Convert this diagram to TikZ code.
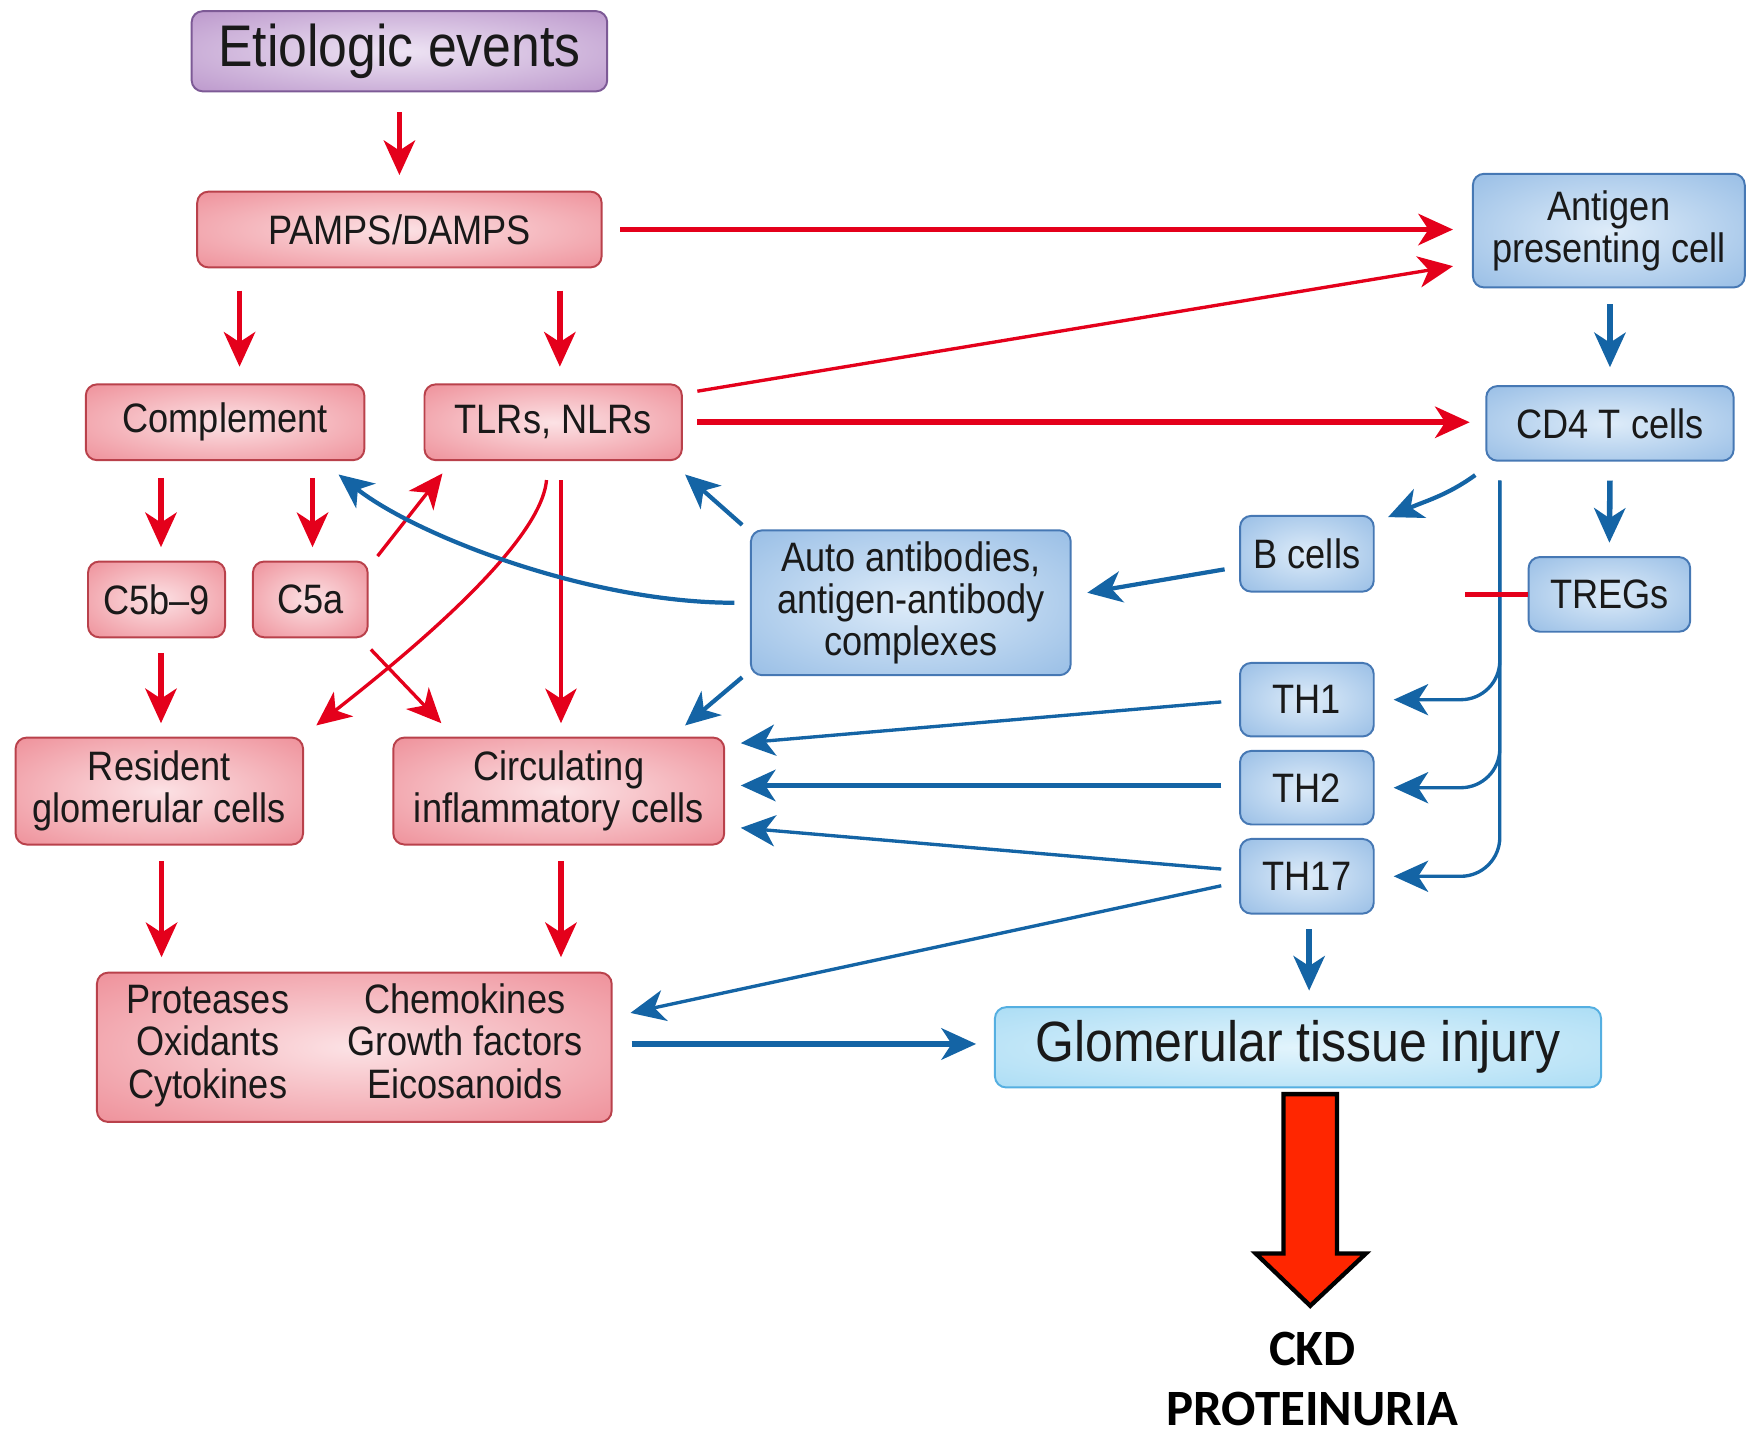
\documentclass[tikz,border=0pt]{standalone}
\usepackage{fontspec}
\setmainfont{Liberation Sans}[FakeStretch=0.88]
\newfontfamily\ckdfont{Carlito}
\usetikzlibrary{arrows.meta,calc}
\definecolor{redin}{RGB}{252,226,229}
\definecolor{redout}{RGB}{233,112,124}
\definecolor{redline}{RGB}{185,65,75}
\definecolor{bluein}{RGB}{222,236,249}
\definecolor{blueout}{RGB}{125,172,222}
\definecolor{blueline}{RGB}{70,120,180}
\definecolor{glomin}{RGB}{226,244,252}
\definecolor{glomout}{RGB}{150,212,242}
\definecolor{glomline}{RGB}{85,175,225}
\definecolor{purpin}{RGB}{238,228,244}
\definecolor{purpout}{RGB}{168,122,188}
\definecolor{purpline}{RGB}{125,90,150}
\definecolor{arrred}{RGB}{228,0,27}
\definecolor{arrblue}{RGB}{20,100,165}
\definecolor{bigred}{RGB}{255,38,0}
\definecolor{txt}{RGB}{25,25,25}
\pgfdeclareradialshading{redshade}{\pgfpoint{0bp}{0bp}}{color(0bp)=(redin); color(50bp)=(redout); color(75bp)=(redout)}
\pgfdeclareradialshading{blueshade}{\pgfpoint{0bp}{0bp}}{color(0bp)=(bluein); color(50bp)=(blueout); color(75bp)=(blueout)}
\pgfdeclareradialshading{glomshade}{\pgfpoint{0bp}{0bp}}{color(0bp)=(glomin); color(50bp)=(glomout); color(75bp)=(glomout)}
\pgfdeclareradialshading{purpshade}{\pgfpoint{0bp}{0bp}}{color(0bp)=(purpin); color(50bp)=(purpout); color(75bp)=(purpout)}
\tikzset{
  box/.style={rounded corners=1mm, inner sep=0pt, align=center, text=txt, line width=0.5pt, shade, font=\fontsize{10.5}{10.8}\selectfont},
  redbox/.style={box, draw=redline, shading=redshade},
  bluebox/.style={box, draw=blueline, shading=blueshade},
  tip/.style={-{Stealth[length=3.1mm,width=2.8mm,inset=0.9mm]}},
  redarr/.style={tip, draw=arrred, line width=0.5mm},
  redthin/.style={redarr, line width=0.3mm},
  bluearr/.style={tip, draw=arrblue, line width=0.5mm},
  bluemid/.style={bluearr, line width=0.38mm},
  bluethin/.style={bluearr, line width=0.3mm}
}
\begin{document}
\begin{tikzpicture}[x=0.1mm,y=-0.1mm]
  \useasboundingbox (0,0) rectangle (1568,1286);
  % Red side
  \node[box, draw=purpline, shading=purpshade, minimum width=37.3mm, minimum height=7.2mm, font=\fontsize{15}{18}\selectfont] (etio) at (358.5,46) {Etiologic events};
  \node[redbox, minimum width=36.3mm, minimum height=6.8mm] (pamps) at (358.5,206) {PAMPS/DAMPS};
  \node[redbox, minimum width=25mm, minimum height=6.8mm] (comp) at (202,379) {Complement};
  \node[redbox, minimum width=23.1mm, minimum height=6.8mm] (tlr) at (496.5,379) {TLRs, NLRs};
  \node[redbox, minimum width=12.3mm, minimum height=6.8mm] (c5b) at (140.5,538) {C5b--9};
  \node[redbox, minimum width=10.3mm, minimum height=6.8mm] (c5a) at (278.5,538) {C5a};
  \node[redbox, minimum width=25.8mm, minimum height=9.6mm] (resid) at (143,710) {Resident\\glomerular cells};
  \node[redbox, minimum width=29.7mm, minimum height=9.6mm] (circ) at (501.5,710) {Circulating\\inflammatory cells};
  \node[redbox, minimum width=46.2mm, minimum height=13.4mm] (prot) at (318,940)
    {\begin{tabular}{@{}c@{\hspace{5.2mm}}c@{}}Proteases & Chemokines\\ Oxidants & Growth factors\\ Cytokines & Eicosanoids\end{tabular}};
  % Blue side
  \node[bluebox, minimum width=24.4mm, minimum height=10.2mm] (apc) at (1444,207) {Antigen\\presenting cell};
  \node[bluebox, minimum width=22.2mm, minimum height=6.7mm] (cd4) at (1445,380) {CD4 T cells};
  \node[bluebox, minimum width=28.7mm, minimum height=13mm] (auto) at (817.5,541) {Auto antibodies,\\antigen-antibody\\complexes};
  \node[bluebox, minimum width=12mm, minimum height=6.8mm] (bcell) at (1173,497) {B cells};
  \node[bluebox, minimum width=14.5mm, minimum height=6.7mm] (treg) at (1444.5,533.5) {TREGs};
  \node[bluebox, minimum width=12mm, minimum height=6.6mm] (th1) at (1173,628) {TH1};
  \node[bluebox, minimum width=12mm, minimum height=6.6mm] (th2) at (1173,707) {TH2};
  \node[bluebox, minimum width=12mm, minimum height=6.7mm] (th17) at (1173,786.5) {TH17};
  \node[box, draw=glomline, shading=glomshade, minimum width=54.4mm, minimum height=7.2mm, font=\fontsize{14.5}{16}\selectfont] (glom) at (1165,940) {Glomerular tissue injury};
  % Red arrows
  \draw[redarr] ($(etio.south)+(0,18)$) -- ($(pamps.north)+(0,-14)$);
  \draw[redarr] ($(pamps.east)+(16,0)$) -- ($(pamps.east -| apc.west)+(-17,0)$);
  \draw[redarr] ($(pamps.south -| comp.north)+(13,20)$) -- ($(comp.north)+(13,-15)$);
  \draw[redarr] ($(pamps.south -| tlr.north)+(6,20)$) -- ($(tlr.north)+(6,-15)$);
  \draw[redthin] ($(tlr.north east)+(13,7)$) -- ($(apc.south west)+(-17,-20)$);
  \draw[redarr] ($(tlr.east)+(13,0)$) -- ($(tlr.east -| cd4.west)+(-14,0)$);
  \draw[redarr] ($(comp.south -| c5b.north)+(4,15)$) -- ($(c5b.north)+(4,-12)$);
  \draw[redarr] ($(comp.south -| c5a.north)+(2,15)$) -- ($(c5a.north)+(2,-12)$);
  \draw[redthin] ($(c5a.north east)+(8,-4)$) -- ($(tlr.south west)+(17,11)$);
  \draw[redthin] ($(c5a.south east)+(2,10)$) -- ($(circ.north west)+(44,-12)$);
  \draw[redthin] ($(tlr.south)+(-6,17)$) .. controls +(-5,60) and +(70,-55) .. ($(resid.north east)+(11,-10)$);
  \draw[redarr, line width=0.38mm] ($(tlr.south -| circ.north)+(2,17)$) -- ($(circ.north)+(2,-12)$);
  \draw[redarr] ($(c5b.south)+(4,13)$) -- ($(c5b.south |- resid.north)+(4,-12)$);
  \draw[redarr] ($(resid.south)+(2,14)$) -- ($(resid.south |- prot.north)+(2,-13)$);
  \draw[redarr] ($(circ.south)+(2,14)$) -- ($(circ.south |- prot.north)+(2,-13)$);
  % Blue arrows
  \draw[bluearr] ($(apc.south -| cd4.north)+(0,14)$) -- ($(cd4.north)+(0,-16)$);
  \draw[bluemid] ($(auto.west)+(-14,0)$) .. controls +(-130,0) and +(70,55) .. ($(comp.south east)+(-24,12)$);
  \draw[bluemid] ($(auto.north west)+(-7,-4)$) -- ($(tlr.south east)+(2,12)$);
  \draw[bluemid] ($(auto.south west)+(-7,1)$) -- ($(circ.north east)+(-36,-10)$);
  \draw[bluemid] ($(bcell.west)+(-13,14)$) -- ($(auto.east)+(14,-9)$);
  \draw[bluemid] ($(cd4.south west)+(-9,12)$) .. controls +(-25,18) and +(35,-15) .. ($(bcell.north east)+(12,2)$);
  \draw[bluearr] ($(cd4.south)+(0,17)$) -- ($(treg.north)+(0,-12)$);
  % CD4 trunk
  \coordinate (trunk) at ($(cd4.south west)+(13,17)$);
  \draw[bluethin, rounded corners=3.5mm] (trunk) |- ($(th1.east)+(17,0)$);
  \draw[bluethin, rounded corners=3.5mm] (trunk) |- ($(th2.east)+(17,0)$);
  \draw[bluethin, rounded corners=3.5mm] (trunk) |- ($(th17.east)+(17,0)$);
  \draw[draw=arrred, line width=0.5mm] (treg.west) -- ++(-56,0);
  \draw[bluethin] ($(th1.west)+(-16,2)$) -- ($(circ.east)+(14,-43)$);
  \draw[bluearr] ($(th2.west)+(-16,-2)$) -- ($(circ.east)+(14,-5)$);
  \draw[bluethin] ($(th17.west)+(-16,-6.5)$) -- ($(circ.east)+(14,33)$);
  \draw[bluethin] ($(th17.west)+(-16,8.5)$) -- ($(prot.north east)+(16,37)$);
  \draw[bluearr] ($(th17.south)+(2,13)$) -- ($(glom.north)+(10,-14)$);
  \draw[bluearr, line width=0.6mm] ($(prot.east)+(17,-3)$) -- ($(glom.west)+(-16,-3)$);
  % Big arrow
  \draw[fill=bigred, line width=1.1pt] (1152,982) -- (1200,982) -- (1200,1125) -- (1226,1125) -- (1176,1172) -- (1127,1125) -- (1152,1125) -- cycle;
  \node[font=\ckdfont\bfseries\fontsize{13}{15.6}\selectfont, anchor=base] (ckd) at (1178,1226) {CKD};
  \node[font=\ckdfont\bfseries\fontsize{13}{15.6}\selectfont, anchor=base] (protu) at (1178,1279) {PROTEINURIA};
\end{tikzpicture}
\end{document}
